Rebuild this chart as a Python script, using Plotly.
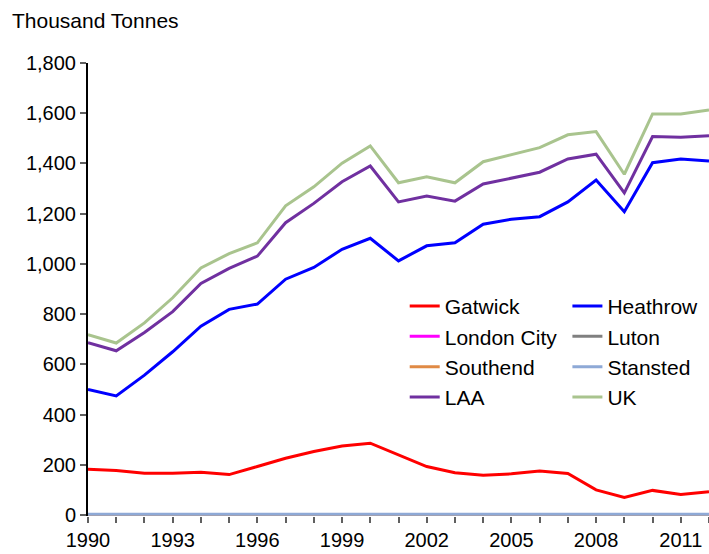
import plotly.graph_objects as go

# Freight at London airports, thousand tonnes
years = list(range(1990, 2013))
gatwick = [182, 177, 166, 166, 170, 161, 193, 226, 253, 275, 286, 240, 193, 168, 158, 164, 175, 165, 100, 70, 98, 82, 93]
heathrow = [500, 474, 557, 650, 752, 819, 840, 939, 986, 1058, 1102, 1012, 1072, 1084, 1158, 1178, 1188, 1247, 1334, 1208, 1403, 1418, 1410]
london_city = [0, 0, 0, 0, 0, 0, 0, 0, 0, 0, 0, 0, 0, 0, 0, 0, 0, 0, 0, 0, 0, 0, 0]
luton = [1, 1, 1, 1, 1, 1, 1, 1, 1, 1, 1, 1, 1, 1, 1, 1, 1, 1, 1, 1, 1, 1, 1]
southend = [0, 0, 0, 0, 0, 0, 0, 0, 0, 0, 0, 0, 0, 0, 0, 0, 0, 0, 0, 0, 0, 0, 0]
stansted = [3, 3, 3, 3, 3, 4, 5, 5, 4, 3, 3, 3, 3, 3, 3, 3, 3, 3, 3, 3, 3, 4, 3]
laa = [686, 654, 727, 810, 922, 982, 1031, 1164, 1241, 1327, 1390, 1247, 1270, 1250, 1318, 1343, 1365, 1418, 1437, 1283, 1507, 1504, 1510]
uk = [718, 685, 765, 865, 984, 1041, 1084, 1231, 1307, 1401, 1470, 1323, 1347, 1323, 1407, 1434, 1463, 1514, 1527, 1357, 1597, 1597, 1613]

# name, values, colour, legend column
series = [
    ("Gatwick", gatwick, "#FF0000", "legend"),
    ("Heathrow", heathrow, "#0000FF", "legend2"),
    ("London City", london_city, "#FF00FF", "legend"),
    ("Luton", luton, "#808080", "legend2"),
    ("Southend", southend, "#E08A45", "legend"),
    ("Stansted", stansted, "#8EA9D6", "legend2"),
    ("LAA", laa, "#7030A0", "legend"),
    ("UK", uk, "#A9C48E", "legend2"),
]

fig = go.Figure()
for name, vals, color, leg in series:
    fig.add_trace(go.Scatter(x=years, y=vals, name=name, mode="lines", legend=leg,
                             line=dict(color=color, width=3)))

font = "Liberation Sans, Arial, sans-serif"
legend_style = dict(orientation="v", xanchor="left", yanchor="top", y=0.508,
                    font=dict(size=21, color="black"), bgcolor="rgba(0,0,0,0)",
                    traceorder="normal")
fig.update_layout(
    width=709, height=554,
    margin=dict(l=88, r=0, t=63, b=38),
    plot_bgcolor="white", paper_bgcolor="white",
    font=dict(family=font, size=20, color="black"),
    title=dict(text="Thousand Tonnes", x=12 / 709, xanchor="left", xref="container",
               y=1 - 21 / 554, yanchor="middle", yref="container",
               font=dict(size=21, color="black")),
    legend=dict(x=0.51, **legend_style),
    legend2=dict(x=0.772, **legend_style),
    showlegend=True,
)
fig.update_xaxes(range=[1990, 2012], tickmode="array", tickvals=list(range(1990, 2012, 3)),
                 ticks="outside", ticklen=6, tickcolor="#606060", tickwidth=1.5,
                 minor=dict(dtick=1, ticks="outside", ticklen=6, tickcolor="#606060", tickwidth=1.5),
                 showline=False, showgrid=False, zeroline=False, automargin=False)
fig.update_yaxes(range=[-4, 1800], tickvals=list(range(0, 1801, 200)), tickformat=",",
                 ticks="outside", ticklen=6, tickcolor="#606060", tickwidth=1.5,
                 showline=True, linecolor="black", linewidth=2, showgrid=False,
                 zeroline=False, automargin=False)

# drop the page's default body margin so the chart sits at the window corner
fig.write_html("out.html", config={"displayModeBar": False},
               post_script="document.body.style.margin = '0';")
